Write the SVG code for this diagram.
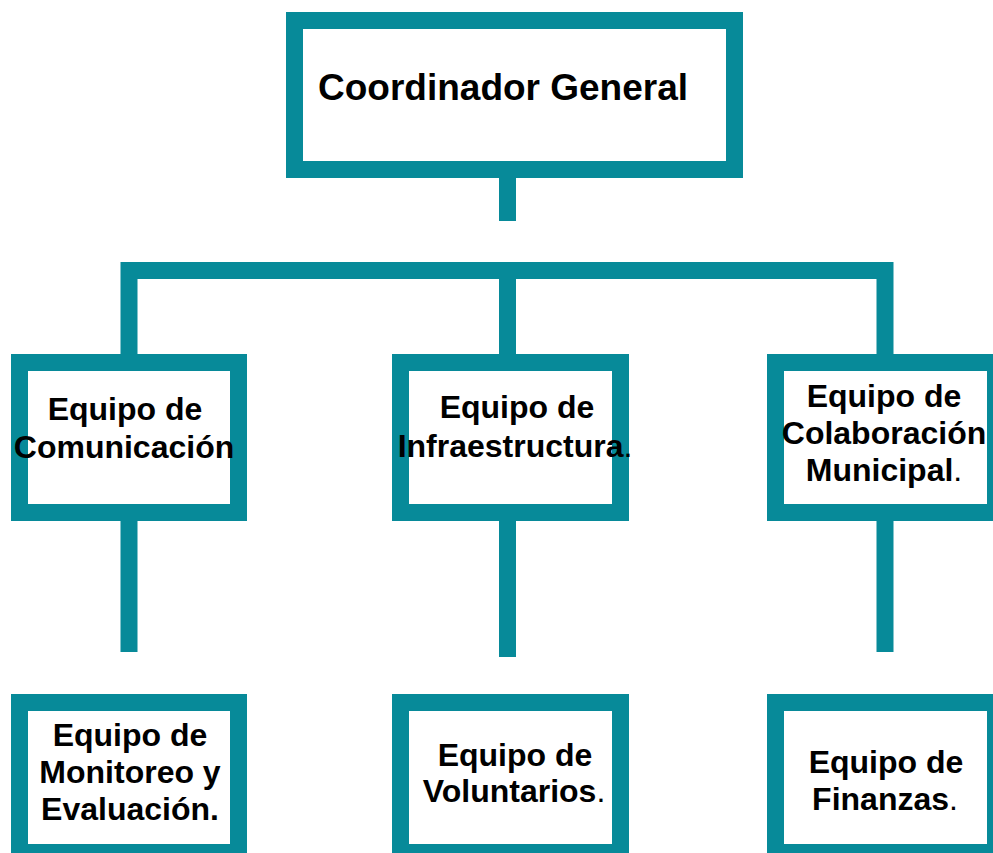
<svg xmlns="http://www.w3.org/2000/svg" width="993" height="853" viewBox="0 0 993 853">
<style>
.box{fill:#ffffff;stroke:#078A99;stroke-width:17;}
.ln{fill:none;stroke:#078A99;stroke-width:17;stroke-linejoin:miter;stroke-linecap:butt;}
text{font-family:"Liberation Sans",Arial,sans-serif;font-weight:bold;fill:#000;font-size:32px;text-anchor:middle;}
.n{font-weight:normal;}
</style>
<rect width="993" height="853" fill="#ffffff"/>
<g id="connectors">
<line class="ln" x1="507.5" y1="178" x2="507.5" y2="221"/>
<path class="ln" d="M129 354 V270.5 H885 V354"/>
<line class="ln" x1="507.5" y1="270" x2="507.5" y2="354"/>
<line class="ln" x1="129" y1="521" x2="129" y2="652"/>
<line class="ln" x1="507.5" y1="521" x2="507.5" y2="657"/>
<line class="ln" x1="885" y1="521" x2="885" y2="652"/>
</g>
<g id="coordinador">
<rect class="box" x="294.5" y="20.5" width="440" height="149"/>
<text x="318" y="100" style="font-size:37px;text-anchor:start">Coordinador General</text>
</g>
<g id="comunicacion">
<rect class="box" x="19.5" y="362.5" width="219" height="150"/>
<text x="125" y="420">Equipo de</text>
<text x="124" y="458">Comunicación</text>
</g>
<g id="infraestructura">
<rect class="box" x="400.5" y="362.5" width="220" height="150"/>
<text x="517" y="418">Equipo de</text>
<text x="515" y="457">Infraestructura<tspan class="n">.</tspan></text>
</g>
<g id="colaboracion">
<rect class="box" x="775.5" y="362.5" width="220" height="150"/>
<text x="884" y="407">Equipo de</text>
<text x="884" y="444">Colaboración</text>
<text x="884" y="481">Municipal<tspan class="n">.</tspan></text>
</g>
<g id="monitoreo">
<rect class="box" x="19.5" y="702.5" width="219" height="150"/>
<text x="130" y="746">Equipo de</text>
<text x="130" y="783">Monitoreo y</text>
<text x="130" y="820">Evaluación.</text>
</g>
<g id="voluntarios">
<rect class="box" x="400.5" y="702.5" width="220" height="150"/>
<text x="515" y="766">Equipo de</text>
<text x="514" y="802">Voluntarios<tspan class="n">.</tspan></text>
</g>
<g id="finanzas">
<rect class="box" x="775.5" y="702.5" width="220" height="150"/>
<text x="886" y="773">Equipo de</text>
<text x="885" y="810">Finanzas<tspan class="n">.</tspan></text>
</g>
</svg>
